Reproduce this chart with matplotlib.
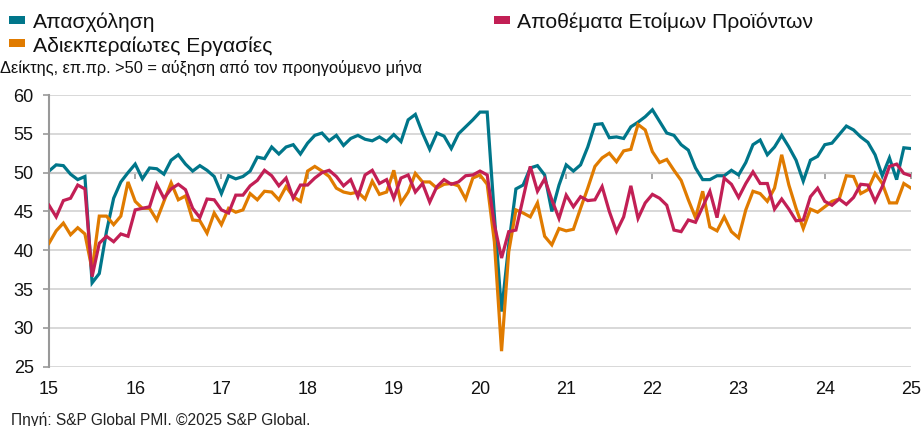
import matplotlib
matplotlib.use("Agg")
import matplotlib.pyplot as plt
from matplotlib.patches import Rectangle
import numpy as np

plt.rcParams['font.family'] = ['Liberation Sans', 'DejaVu Sans']

start_year = 2015
employment = [
    50.2, 51.0, 50.9, 49.8, 49.1, 49.5, 35.8, 37.0, 42.4, 46.7, 48.8, 50.0,
    51.1, 49.2, 50.6, 50.5, 49.8, 51.6, 52.3, 51.1, 50.2, 50.9, 50.3, 49.5,
    47.3, 49.6, 49.2, 49.5, 50.2, 52.0,
    51.8, 53.3, 52.4, 53.3, 53.6, 52.4, 53.8, 54.8, 55.1, 54.1, 54.8, 53.5,
    54.4, 54.8, 54.3, 54.1, 54.6, 54.0, 54.9, 54.0, 56.8, 57.5, 55.1, 53.0,
    55.1, 54.7, 53.1, 55.0,
    55.9, 56.8, 57.8, 57.8, 44.5, 32.1, 40.7, 47.9, 48.4, 50.6, 50.9, 49.7,
    45.0, 48.4, 51.0, 50.2, 51.0, 53.3, 56.2, 56.3, 54.5, 54.6, 54.4, 55.9,
    56.5, 57.2, 58.1, 56.6, 55.1, 54.8,
    53.6, 52.9, 50.6, 49.1, 49.1, 49.6, 49.6, 50.3, 49.7, 51.3, 53.6, 54.2,
    52.3, 53.3, 54.8, 53.3, 51.6, 48.9, 51.6, 52.1, 53.6, 53.8, 54.9, 56.0,
    55.5, 54.6, 53.9, 52.3, 49.6, 51.9, 49.1, 53.2, 53.1,
]
backlogs = [
    40.9, 42.5, 43.5, 42.0, 42.9, 42.1, 37.5, 44.4, 44.4, 43.3, 44.4, 48.8,
    46.3, 45.4, 45.4, 43.9, 46.3, 48.7, 46.5, 47.0, 43.9, 43.8, 42.2, 44.8,
    43.3, 45.4, 44.9, 45.2, 47.3, 46.5,
    47.6, 47.5, 46.5, 48.2, 46.9, 46.3, 50.2, 50.8, 50.2, 49.5, 48.0, 47.5,
    47.3, 47.5, 46.6, 48.9, 47.2, 47.5, 50.3, 46.1, 47.5, 49.9, 48.8, 48.8,
    48.0, 48.5, 48.6, 48.3,
    46.6, 49.3, 49.7, 48.5, 41.1, 27.0, 39.8, 45.2, 44.8, 44.3, 46.1, 41.8,
    40.7, 42.8, 42.5, 42.7, 45.4, 48.0, 50.8, 51.9, 52.5, 51.4, 52.8, 53.0,
    56.2, 55.5, 52.7, 51.3, 51.7, 50.3,
    49.0, 46.5, 44.2, 47.6, 43.0, 42.5, 44.3, 42.4, 41.6, 45.2, 47.6, 47.3,
    46.3, 48.0, 52.3, 48.4, 45.4, 42.8, 45.3, 44.9, 45.6, 46.3, 46.6, 49.6,
    49.5, 47.3, 47.8, 49.9, 48.6, 46.1, 46.1, 48.6, 48.0,
]
stocks = [
    45.8, 44.3, 46.4, 46.7, 48.4, 47.9, 36.6, 40.9, 41.8, 41.1, 42.1, 41.8,
    45.2, 45.4, 45.6, 48.5, 46.7, 47.9, 48.5, 47.8, 45.4, 44.2, 46.6, 46.5,
    45.2, 44.8, 47.1, 47.1, 48.3, 49.0,
    50.3, 49.6, 48.3, 49.3, 46.7, 48.4, 48.4, 49.3, 50.0, 50.3, 49.5, 48.3,
    49.1, 46.9, 49.7, 50.3, 48.6, 49.1, 46.7, 49.3, 49.7, 47.5, 48.6, 46.2,
    48.2, 49.1, 48.5, 48.8,
    49.6, 49.7, 50.2, 49.7, 43.3, 39.0, 42.4, 42.6, 46.7, 50.8, 47.6, 49.2,
    46.5, 44.1, 47.1, 45.6, 46.9, 46.4, 46.5, 48.2, 45.0, 42.4, 44.3, 48.3,
    44.1, 46.1, 47.2, 46.7, 45.8, 42.6,
    42.4, 43.9, 43.6, 45.6, 47.6, 44.2, 49.3, 48.5, 46.8, 48.6, 50.1, 48.6,
    48.6, 45.3, 46.6, 45.3, 43.8, 43.9, 46.9, 48.0, 46.3, 45.8, 46.6, 45.9,
    46.8, 48.5, 48.4, 46.3, 48.2, 50.8, 51.1, 49.9, 49.6,
]
year_ticks = list(range(2015, 2026))
year_labels = [str(y % 100) for y in year_ticks]
y_ticks = [25, 30, 35, 40, 45, 50, 55, 60]

label_emp = 'Απασχόληση'
label_stk = 'Αποθέματα Ετοίμων Προϊόντων'
label_blg = 'Αδιεκπεραίωτες Εργασίες'
subtitle = 'Δείκτης, επ.πρ. >50 = αύξηση από τον προηγούμενο μήνα'
source = 'Πηγή: S&P Global PMI. ©2025 S&P Global.'

c_emp = '#00768a'
c_blg = '#e07b00'
c_stk = '#c21f55'

W, H = 922, 426


def fx(px):
    return px / W


def fy(py):
    return 1 - py / H


x = start_year + np.arange(len(employment)) / 12.0

fig = plt.figure(figsize=(W / 100, H / 100), dpi=100)
ax = fig.add_axes([fx(49), fy(366.7), (911 - 49) / W, (366.7 - 95) / H])

lw = 2.3
ax.plot(x, backlogs, color=c_blg, lw=lw, solid_joinstyle='miter', zorder=3)
ax.plot(x, stocks, color=c_stk, lw=lw, solid_joinstyle='miter', zorder=4)
ax.plot(x, employment, color=c_emp, lw=lw, solid_joinstyle='miter', zorder=2)

ax.set_xlim(2015, 2025)
ax.set_ylim(25, 60)
ax.set_yticks(y_ticks)
ax.yaxis.grid(True, color='#d2d2d2', lw=1.2)
ax.set_axisbelow(True)
ax.set_xticks(year_ticks)
ax.set_xticklabels(year_labels)
ax.tick_params(axis='x', length=0, pad=10, labelsize=13, labelcolor='#111111')
ax.tick_params(axis='y', length=4, width=1.2, color='#999999', direction='out',
               pad=7, labelsize=13, labelcolor='#111111')
for s in ['top', 'right', 'bottom']:
    ax.spines[s].set_visible(False)
ax.spines['left'].set_color('#999999')
ax.spines['left'].set_linewidth(1.5)

sec = ax.secondary_xaxis((50 - 25) / (60 - 25))
sec.set_xticks(year_ticks)
sec.set_xticklabels([])
sec.tick_params(direction='in', length=4, width=1.2, color='#999999')
for s in sec.spines.values():
    s.set_color('#999999')
    s.set_linewidth(1.5)

# legend (manual layout)
legend_items = [
    (label_emp, c_emp, 9, 16.5, 33, 28.3),
    (label_blg, c_blg, 9, 39.5, 33, 51.5),
    (label_stk, c_stk, 494, 16.5, 517, 28.3),
]
for text, col, sx, sy, tx, ty in legend_items:
    fig.patches.append(Rectangle((fx(sx), fy(sy + 7.6)), 16 / W, 7.6 / H,
                                 transform=fig.transFigure, facecolor=col,
                                 edgecolor='none'))
    fig.text(fx(tx), fy(ty), text, fontsize=15.2, va='baseline', ha='left',
             color='#111111')

fig.text(fx(0), fy(72.5), subtitle, fontsize=11.8, va='baseline', ha='left',
         color='#111111')
fig.text(fx(11), fy(424.5), source, fontsize=11.2, va='baseline', ha='left',
         color='#222222')

fig.savefig('out.png', dpi=100)
